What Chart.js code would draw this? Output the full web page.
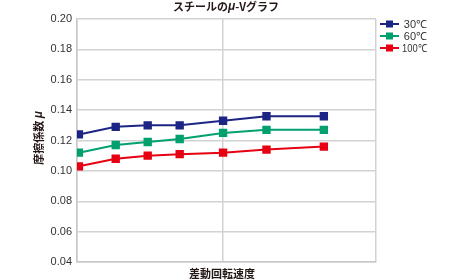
<!DOCTYPE html>
<html>
<head>
<meta charset="utf-8">
<script src="https://cdn.jsdelivr.net/npm/chart.js@4.4.1/dist/chart.umd.min.js"></script>
<style>
  html, body { margin: 0; padding: 0; background: #fff; }
  #wrap { width: 460px; height: 280px; }
</style>
</head>
<body>
<div id="wrap"><canvas id="c" width="460" height="280"></canvas></div>
<script>
// 差動回転速度 (横軸, 目盛なし・対数)
const speeds = [10, 18, 30, 50, 100, 200, 500];
const seriesLabels = ['30℃', '60℃', '100℃'];
const mu30 = [0.124, 0.129, 0.130, 0.130, 0.133, 0.136, 0.136];
const mu60 = [0.112, 0.117, 0.119, 0.121, 0.125, 0.127, 0.127];
const mu100 = [0.103, 0.108, 0.110, 0.111, 0.112, 0.114, 0.116];
const yTicks = [0.04, 0.06, 0.08, 0.10, 0.12, 0.14, 0.16, 0.18, 0.20];
const colors = ['#1d2584', '#00a06f', '#e60012'];

const CJK = '"Noto Sans CJK JP", sans-serif';
const LAT = '"Liberation Sans", Arial, sans-serif';

function toPoints(arr) {
    return arr.map((v, i) => ({ x: speeds[i], y: v }));
}

const datasets = [mu30, mu60, mu100].map((arr, i) => ({
    label: seriesLabels[i],
    data: toPoints(arr),
    borderColor: colors[i],
    backgroundColor: colors[i],
    borderWidth: 2,
    pointStyle: 'rect',
    pointRadius: 4.5,
    pointHoverRadius: 4.5,
    tension: 0
}));

// タイトル・軸タイトル・凡例
const decor = {
    id: 'decor',
    afterDraw(chart) {
        const ctx = chart.ctx;
        ctx.save();
        ctx.fillStyle = '#231815';
        ctx.textBaseline = 'middle';

        // タイトル
        const parts = [
            { t: 'スチールの', f: 'bold 11px ' + CJK },
            { t: 'μ', f: 'italic bold 12px ' + LAT },
            { t: '-Vグラフ', f: 'bold 11px ' + CJK }
        ];
        let total = 0;
        parts.forEach(p => { ctx.font = p.f; p.w = ctx.measureText(p.t).width; total += p.w; });
        let x = 226 - total / 2;
        ctx.textAlign = 'left';
        parts.forEach(p => { ctx.font = p.f; ctx.fillText(p.t, x, 7); x += p.w; });

        // 縦軸タイトル
        ctx.save();
        ctx.translate(39, 138);
        ctx.rotate(-Math.PI / 2);
        ctx.font = 'bold 11px ' + CJK;
        const a = '摩擦係数 ';
        const aw = ctx.measureText(a).width;
        ctx.font = 'italic bold 12px ' + LAT;
        const bw = ctx.measureText('μ').width;
        let sx = -(aw + bw) / 2;
        ctx.font = 'bold 11px ' + CJK;
        ctx.fillText(a, sx, 0);
        ctx.font = 'italic bold 12px ' + LAT;
        ctx.fillText('μ', sx + aw, 0);
        ctx.restore();

        // 横軸タイトル
        ctx.font = 'bold 11px ' + CJK;
        ctx.textAlign = 'center';
        ctx.fillText('差動回転速度', 222, 274);

        // 凡例
        chart.data.datasets.forEach((ds, i) => {
            const y = 24 + i * 12;
            ctx.strokeStyle = ds.borderColor;
            ctx.lineWidth = 2;
            ctx.beginPath();
            ctx.moveTo(380, y);
            ctx.lineTo(399, y);
            ctx.stroke();
            ctx.fillStyle = ds.borderColor;
            ctx.fillRect(386, y - 3.5, 7, 7);
            ctx.fillStyle = '#333';
            ctx.font = '11px ' + LAT;
            ctx.textAlign = 'right';
            ctx.fillText(ds.label, 427, y + 0.5, 25);
        });
        ctx.restore();
    }
};

new Chart(document.getElementById('c'), {
    type: 'line',
    data: { datasets },
    plugins: [decor],
    options: {
        responsive: false,
        animation: false,
        layout: { padding: { top: 19, right: 84, bottom: 0, left: 0 } },
        plugins: { legend: { display: false }, tooltip: { enabled: false }, title: { display: false } },
        scales: {
            x: {
                type: 'logarithmic',
                min: 9.7,
                max: 1150,
                afterBuildTicks(scale) {
                    scale.ticks = [{ value: 9.7 }, { value: 100 }, { value: 1150 }];
                },
                afterFit(scale) { scale.height = 18; },
                ticks: { display: false },
                grid: { color: '#d2d2d2', lineWidth: 1.5, drawTicks: false },
                border: { display: true, color: '#c8c8c8', width: 1.5 }
            },
            y: {
                min: 0.04,
                max: 0.20,
                afterBuildTicks(scale) {
                    scale.ticks = yTicks.map(v => ({ value: v }));
                },
                afterFit(scale) { scale.width = 77; },
                ticks: {
                    padding: 5,
                    color: '#333',
                    font: { family: LAT, size: 11 },
                    callback: v => v.toFixed(2)
                },
                grid: { color: '#d2d2d2', lineWidth: 1.5, drawTicks: false },
                border: { display: true, color: '#c8c8c8', width: 1.5 }
            }
        }
    }
});
</script>
</body>
</html>
